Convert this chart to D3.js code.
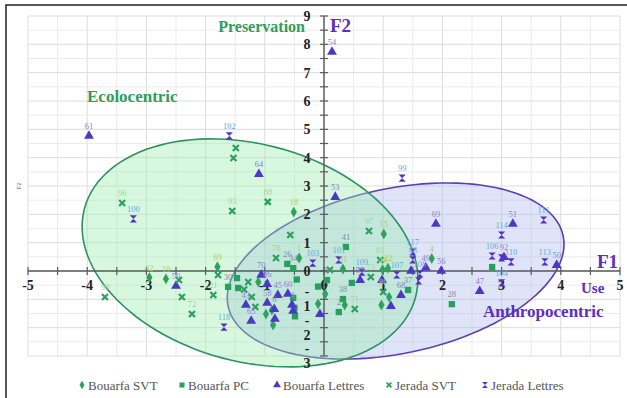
<!DOCTYPE html>
<html><head><meta charset="utf-8">
<script src="https://cdn.jsdelivr.net/npm/d3@7"></script>
<style>body{margin:0;background:#fff}svg{display:block}</style>
</head><body>
<svg id="c" width="627" height="398"></svg>
<script>
// ---- data ----
const xTicks = [-5,-4,-3,-2,-1,0,1,2,3,4,5];
const yTicks = [-3,-2,-1,0,1,2,3,4,5,6,7,8,9];
const seriesNames = ["Bouarfa SVT","Bouarfa PC","Bouarfa Lettres","Jerada SVT","Jerada Lettres"];

const svtBX = [-0.51,-0.42,1.01,1.82,-2.95,-2.67,1.08,0.32,-1.11,-0.98,-0.86,-0.88,0.02,-0.10,0.35,0.97,1.10,-1.80,0.99];
const svtBY = [2.08,0.46,1.31,0.44,-0.23,-0.28,0.10,0.07,-0.39,-1.52,-1.91,-1.38,-0.81,-1.16,-1.20,-1.20,-0.92,0.15,0.05];
const svtBL = ["18","1","15","4","42","19","22","31","","","","","","","","","","69","44"];

const pcBX = [0.37,-0.62,-1.62,2.16,1.42,0.32,0.25,0.47,0.05,-1.47,-1.45,-0.52,-0.50,-0.49,-0.52,-0.46,2.84,-0.10];
const pcBY = [0.85,0.25,-0.56,-1.17,-0.67,-0.99,-1.45,-0.42,-0.32,-0.25,-0.60,-0.95,-1.30,-1.60,0.10,-0.30,0.14,-0.55];
const pcBL = ["41","26","30","28","37","38","2","","5","","","","","","34","","",""];

const letBX = [-3.97,0.135,-1.10,0.19,1.89,3.19,3.04,3.93,2.63,1.72,1.98,1.47,-2.50,-1.06,-0.96,-1.32,-1.23,-0.78,-0.96,-0.84,-0.83,-0.61,-0.54,-0.52,0.61,0.98,1.30,1.13,-0.07];
const letBY = [4.77,7.73,3.42,2.61,1.66,1.66,0.49,0.21,-0.71,0.12,0.00,0.00,-0.53,-0.14,-0.46,-1.20,-1.76,-0.85,-1.13,-1.35,-1.69,-0.81,-1.20,-1.41,-0.32,-0.32,-0.85,-1.24,-1.52];
const letBL = ["61","54","64","53","69","51","92","50","47","49","56","","59","70","86","43","65","45","58","6","","60","4","","55","","68","",""];

const svtJX = [-3.41,-3.70,-2.45,-2.40,-2.23,-1.55,-0.95,-1.49,-1.53,-0.57,-0.81,0.76,0.95,0.10,0.79,1.00,0.52,-1.79,-1.87,-1.28,-1.22,-1.16,-1.35];
const svtJY = [2.40,-0.92,-0.32,-0.92,-1.52,2.12,2.44,4.34,3.99,1.27,0.46,1.41,0.39,0.04,-0.21,-0.74,-1.34,-0.14,-0.85,-0.39,-0.92,-1.27,-0.65];
const svtJL = ["96","90","","","72","93","88","","","","78","97","81","","73","80","71","","21","","","",""];

const letJX = [-1.60,-3.22,1.32,3.00,3.71,2.84,3.00,3.16,3.73,3.00,1.50,1.50,1.62,1.60,0.64,1.23,-0.19,0.25,-1.69];
const letJY = [4.77,1.84,3.28,1.27,1.80,0.53,0.46,0.32,0.32,-0.42,0.67,0.39,-0.10,-0.35,-0.04,-0.14,0.28,0.39,-1.98];
const letJL = ["102","100","99","114","111","106","","110","113","104","117","48","108","","109","107","103","101","118"];

// confidence ellipses: center and two semi-axis vectors (data units)
const ellipseNames = ["Anthropocentric","Ecolocentric"];
const ellipseCx = [1.21,-1.25];
const ellipseCy = [0.00,0.64];
const ellipseAx = [2.83,2.796];
const ellipseAy = [1.237,-1.567];
const ellipseBx = [0.285,-0.475];
const ellipseBy = [-2.851,-3.706];

// ---- drawing ----
const svg = d3.select("#c");
const x = d3.scaleLinear().domain([-5,5]).range([28,620]);
const y = d3.scaleLinear().domain([-3,9]).range([356,16]);
const serif = "'Liberation Serif','Times New Roman',serif";

// grid
const gx = d3.range(-5,5.001,0.5), gy = d3.range(-3,9.001,0.5);
svg.append("g").selectAll("line").data(gx).join("line")
  .attr("x1",d=>x(d)).attr("x2",d=>x(d)).attr("y1",y(9)).attr("y2",y(-3))
  .attr("stroke",d=>Number.isInteger(d)?"#dcdcdc":"#ebebeb").attr("stroke-width",1);
svg.append("g").selectAll("line").data(gy).join("line")
  .attr("y1",d=>y(d)).attr("y2",d=>y(d)).attr("x1",x(-5)).attr("x2",x(5))
  .attr("stroke",d=>Number.isInteger(d)?"#dcdcdc":"#ebebeb").attr("stroke-width",1);

// ellipses
const ellFill = ["#b0bcef","#9beab0"], ellStroke = ["#5a3fb5","#2f9160"];
function ellPath(i){
  const pts = d3.range(0,361,3).map(a=>{const t=a*Math.PI/180;
    return [x(ellipseCx[i]+ellipseAx[i]*Math.cos(t)+ellipseBx[i]*Math.sin(t)),
            y(ellipseCy[i]+ellipseAy[i]*Math.cos(t)+ellipseBy[i]*Math.sin(t))];});
  return d3.line()(pts)+"Z";
}
[0,1].forEach(i=>{
  svg.append("path").attr("d",ellPath(i)).attr("fill",ellFill[i]).attr("fill-opacity",0.4)
    .attr("stroke",ellStroke[i]).attr("stroke-width",1.6);
});

// axes through origin
const axCol = "#5a5a5a";
svg.append("line").attr("x1",x(-5)).attr("x2",x(5)).attr("y1",y(0)).attr("y2",y(0)).attr("stroke",axCol).attr("stroke-width",1.4);
svg.append("line").attr("x1",x(0)).attr("x2",x(0)).attr("y1",y(9)).attr("y2",y(-3)).attr("stroke",axCol).attr("stroke-width",1.4);
svg.append("g").selectAll("line").data(gx).join("line")
  .attr("x1",d=>x(d)).attr("x2",d=>x(d)).attr("y1",y(0)-4).attr("y2",y(0)+4).attr("stroke",axCol).attr("stroke-width",1.2);
svg.append("g").selectAll("line").data(gy).join("line")
  .attr("y1",d=>y(d)).attr("y2",d=>y(d)).attr("x1",x(0)-4).attr("x2",x(0)+4).attr("stroke",axCol).attr("stroke-width",1.2);

// tick labels
svg.append("g").selectAll("text").data(xTicks).join("text")
  .attr("x",d=>x(d)).attr("y",y(0)+19).attr("text-anchor","middle")
  .attr("font-family",serif).attr("font-weight","bold").attr("font-size",14).attr("fill","#222")
  .text(d=>d);
const yl = svg.append("g").selectAll("text").data(yTicks).join("text")
  .attr("x",x(0)-17).attr("y",d=>y(d)+5).attr("text-anchor","middle")
  .attr("font-family",serif).attr("font-weight","bold").attr("font-size",14).attr("fill","#222");
yl.each(function(d){
  const t = d3.select(this);
  if(d<0){
    t.append("tspan").attr("x",x(0)-17).attr("y",y(d)-3).text("-");
    t.append("tspan").attr("x",x(0)-17).attr("y",y(d)+12).text(String(-d));
  } else t.text(d);
});

// tiny axis title
svg.append("text").attr("transform","translate(21,186) rotate(-90)").attr("text-anchor","middle")
  .attr("font-family","'Liberation Sans',Arial,sans-serif").attr("font-size",6).attr("fill","#666").text("F2");

// annotations
const purple="#5b2fc0", green="#2e9e5c";
function ann(t,px,py,size,col,anchor){
  svg.append("text").attr("x",px).attr("y",py).attr("text-anchor",anchor||"start")
    .attr("font-family",serif).attr("font-weight","bold").attr("font-size",size).attr("fill",col).text(t);
}
ann("F2",x(0)+6,32,19,purple);
ann("Preservation",305,32,16,green,"end");
ann("Ecolocentric",87,102,17,green);
ann("F1",597,268,19,purple);
ann("Use",581,293,15,purple);
ann("Anthropocentric",483,317,17,purple);

// markers
const sym = {
  diamond: d3.symbol().type(d3.symbolDiamond).size(34)(),
  square: d3.symbol().type(d3.symbolSquare).size(40)(),
  triangle: d3.symbol().type(d3.symbolTriangle).size(42)(),
  cross: "M-3,-3L3,3M-3,3L3,-3",
  hour: "M-3.6,-3.6H3.6L-3.6,3.6H3.6Z"
};
const series = [
  {xs:svtBX,ys:svtBY,ls:svtBL,shape:"diamond",col:"#2ca25f",lab:"#a9cf64"},
  {xs:pcBX,ys:pcBY,ls:pcBL,shape:"square",col:"#26a05c",lab:"#7d8ea6"},
  {xs:letBX,ys:letBY,ls:letBL,shape:"triangle",col:"#4b38c6",lab:"#8a7fd4"},
  {xs:svtJX,ys:svtJY,ls:svtJL,shape:"cross",col:"#2aa15c",lab:"#9cd99a"},
  {xs:letJX,ys:letJY,ls:letJL,shape:"hour",col:"#5530c0",lab:"#5aaee0"}
];
function drawMark(g,shape,col){
  const p = g.append("path").attr("d",sym[shape]);
  if(shape==="cross") p.attr("fill","none").attr("stroke",col).attr("stroke-width",2.2);
  else p.attr("fill",col);
  return p;
}
series.forEach(s=>{
  const g = svg.append("g");
  s.xs.forEach((v,i)=>{
    const m = g.append("g").attr("transform",`translate(${x(v)},${y(s.ys[i])})`);
    drawMark(m,s.shape,s.col);
  });
});
series.forEach(s=>{
  const g = svg.append("g");
  s.xs.forEach((v,i)=>{
    if(!s.ls[i]) return;
    g.append("text").attr("x",x(v)).attr("y",y(s.ys[i])-7).attr("text-anchor","middle")
      .attr("font-family",serif).attr("font-size",8.5).attr("fill",s.lab).text(s.ls[i]);
  });
});

// legend
const legX = [82,182,277,389,485];
seriesNames.forEach((n,i)=>{
  const g = svg.append("g").attr("transform",`translate(${legX[i]},385)`);
  const m = g.append("g").attr("transform","scale(0.8)");
  drawMark(m,series[i].shape,series[i].col);
  g.append("text").attr("x",6).attr("y",4.5).attr("font-family",serif).attr("font-size",13)
    .attr("fill","#555").text(n);
});

// frame
svg.append("path").attr("d","M6,398V5H627").attr("fill","none").attr("stroke","#222").attr("stroke-width",1.5);
</script>
</body></html>
